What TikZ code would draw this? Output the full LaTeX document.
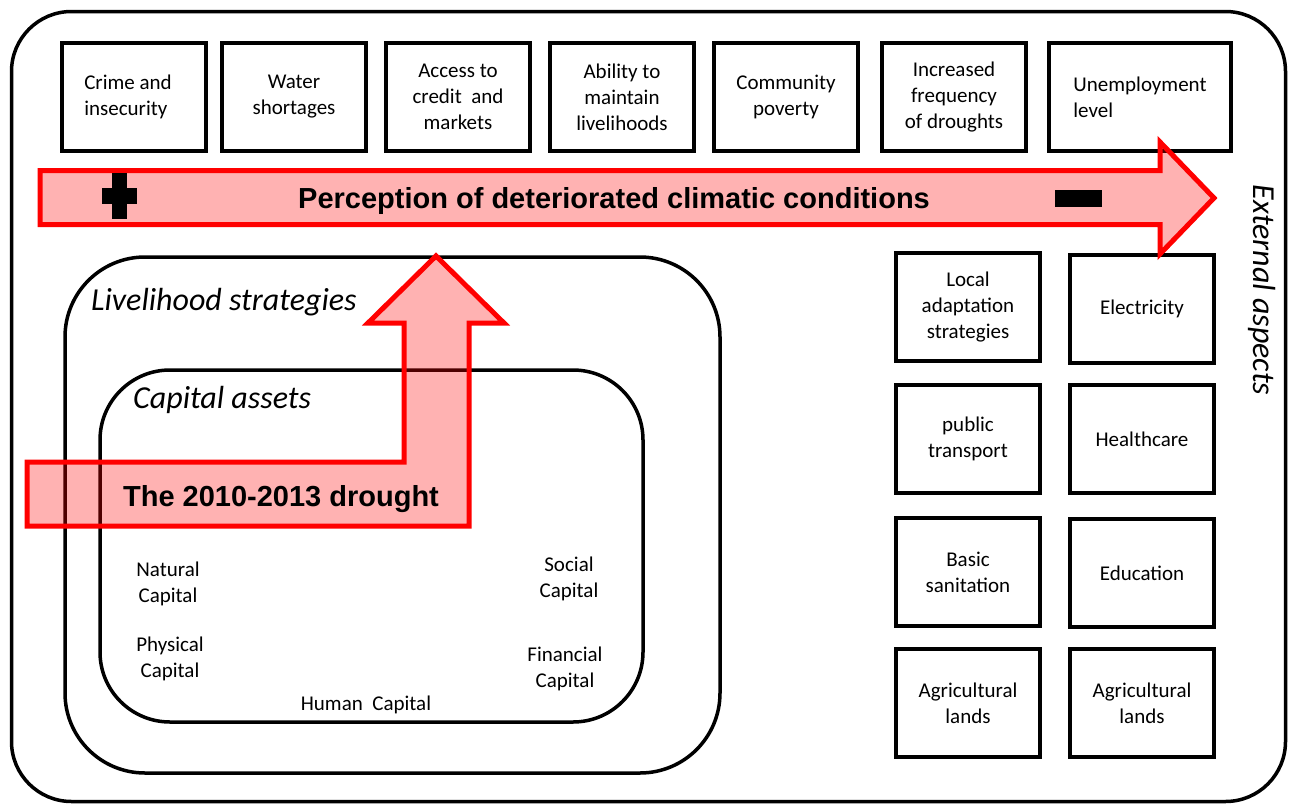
\documentclass[tikz,border=0pt]{standalone}
\usepackage{fontspec}
\setmainfont{Carlito}
\newfontfamily\arialfont{Liberation Sans}
\begin{document}
\begin{tikzpicture}[x=1pt,y=-1pt,
  box/.style={draw, line width=4.5pt, minimum width=144pt, minimum height=108pt,
    inner sep=0pt, align=center, font=\fontsize{21}{26}\selectfont},
  frame/.style={draw, line width=3.5pt},
  redarrow/.style={draw=red, line width=5pt, fill=red, fill opacity=0.3, line join=miter},
  lbl/.style={align=center, inner sep=0pt, font=\fontsize{21}{26}\selectfont},
  title/.style={inner sep=0pt, font=\fontsize{32}{38}\selectfont\itshape},
  bold/.style={inner sep=0pt, font=\fontsize{29}{34}\selectfont\arialfont\bfseries}
]
\useasboundingbox (0,0) rectangle (1291,809);
% frames
\draw[frame, rounded corners=60pt] (11.5,11.5) rectangle (1285.5,801.5);
\draw[frame, rounded corners=80pt] (65,257) rectangle (720,773);
\draw[frame, rounded corners=70pt] (100,370) rectangle (643,722);
% top boxes
\node[box, align=left] (b1) at (134,97) {Crime and\hspace*{12pt}\\insecurity};
\node[box] (b2) at (294,97) {Water\\shortages};
\node[box] (b3) at (458,97) {Access to\\credit\ \ and\\markets};
\node[box] (b4) at (622,97) {Ability to\\maintain\\livelihoods};
\node[box] (b5) at (786,97) {Community\\poverty};
\node[box] (b6) at (954,97) {Increased\\frequency\\of droughts};
\node[box, align=left, minimum width=182pt] (b7) at (1140,97) {Unemployment\\level};
% right column boxes
\node[box] (r1) at (968,307) {Local\\adaptation\\strategies};
\node[box] (r2) at (1142,309) {Electricity};
\node[box] (r3) at (968,439) {public\\transport};
\node[box] (r4) at (1142,439) {Healthcare};
\node[box] (r5) at (968,572) {Basic\\sanitation};
\node[box] (r6) at (1142,573) {Education};
\node[box] (r7) at (968,703) {Agricultural\\lands};
\node[box] (r8) at (1142,703) {Agricultural\\lands};
% titles
\node[title, anchor=west] (tl) at (91,302) {Livelihood strategies};
\node[title, anchor=west] (tc) at (133,400) {Capital assets};
\node[title, rotate=-90] (te) at (1262,290) {External aspects};
% capital labels
\node[lbl] (c1) at (168,584) {Natural\\Capital};
\node[lbl] (c2) at (170,659) {Physical\\Capital};
\node[lbl] (c3) at (366,705) {Human\ \ Capital};
\node[lbl] (c4) at (569,579) {Social\\Capital};
\node[lbl] (c5) at (565,669) {Financial\\Capital};
% arrows
\draw[redarrow] (40,170.5) -- (1160,170.5) -- (1160,142) -- (1214,198)
  -- (1160,254) -- (1160,224.5) -- (40,224.5) -- cycle;
\draw[redarrow] (27,462) -- (404,462) -- (404,323) -- (368,323) -- (436,256)
  -- (504,323) -- (469,323) -- (469,526) -- (27,526) -- cycle;
% plus and minus
\fill (112,173) rectangle (127,219);
\fill (102,188) rectangle (137,204);
\fill (1055,190) rectangle (1102,207);
% arrow texts
\node[bold] (tp) at (614,201) {Perception of deteriorated climatic conditions};
\node[bold] (td) at (281,499) {The 2010-2013 drought};
\end{tikzpicture}
\end{document}
